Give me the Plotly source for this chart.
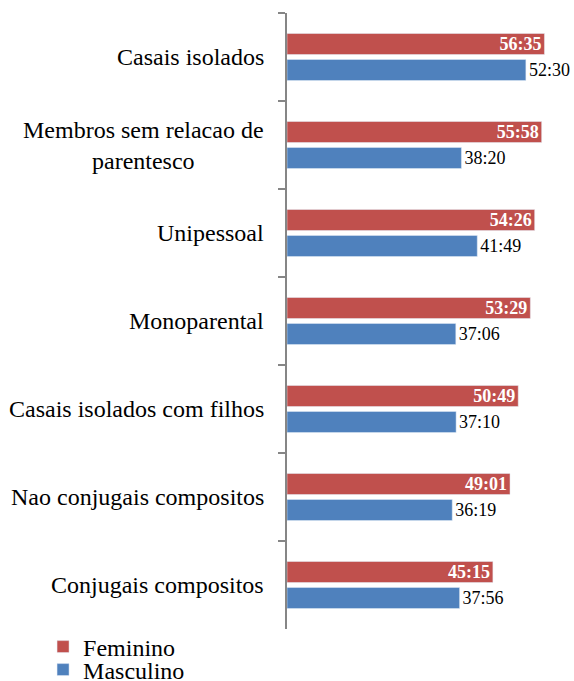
import plotly.graph_objects as go

categories = [
    "Casais isolados",
    "Membros sem relacao de<br>parentesco",
    "Unipessoal",
    "Monoparental",
    "Casais isolados com filhos",
    "Nao conjugais compositos",
    "Conjugais compositos",
]
feminino = ["56:35", "55:58", "54:26", "53:29", "50:49", "49:01", "45:15"]
masculino = ["52:30", "38:20", "41:49", "37:06", "37:10", "36:19", "37:56"]


def to_seconds(s):
    m, sec = s.split(":")
    return int(m) * 60 + int(sec)


FONT = "Liberation Serif"
FONT2 = "Times New Roman"
RED = "#C0504D"
BLUE = "#4F81BD"
GREY = "#868686"

fig = go.Figure()
fig.add_trace(go.Bar(
    name="Feminino", orientation="h", y=categories,
    x=[to_seconds(v) for v in feminino], text=feminino,
    marker=dict(color=RED), textposition="inside", insidetextanchor="end",
    textfont=dict(family=FONT, size=18, color="white", weight="bold"),
    constraintext="none", legend="legend",
))
fig.add_trace(go.Bar(
    name="Masculino", orientation="h", y=categories,
    x=[to_seconds(v) for v in masculino], text=masculino,
    marker=dict(color=BLUE), textposition="outside",
    textfont=dict(family=FONT, size=18, color="black"),
    constraintext="none", cliponaxis=False, legend="legend2",
))

for c in categories:
    fig.add_annotation(
        x=0, xref="paper", y=c, yref="y", text=c, showarrow=False,
        xanchor="right", yanchor="middle", xshift=-21, align="center",
        font=dict(family=FONT, size=24, color="black", weight="normal"),
    )

fig.update_layout(
    width=574, height=681,
    margin=dict(l=287, r=14, t=13, b=52),
    paper_bgcolor="white", plot_bgcolor="white",
    barmode="group", bargap=0.41, bargroupgap=0.19,
    font=dict(family=FONT, size=24, color="black"),
    xaxis=dict(range=[0, 3600], visible=False),
    yaxis=dict(
        autorange="reversed", type="category", tickson="boundaries",
        ticks="outside", ticklen=7, tickcolor=GREY, tickwidth=1.5,
        showticklabels=False, showline=True, linecolor=GREY, linewidth=1.5,
        showgrid=False, zeroline=False,
    ),
    legend=dict(
        xref="container", yref="container", x=0.075, y=1 - 647 / 681,
        xanchor="left", yanchor="middle", font=dict(family=FONT2, size=24),
        bgcolor="rgba(0,0,0,0)", borderwidth=0, itemwidth=30,
    ),
    legend2=dict(
        xref="container", yref="container", x=0.075, y=1 - 670 / 681,
        xanchor="left", yanchor="middle", font=dict(family=FONT2, size=24),
        bgcolor="rgba(0,0,0,0)", borderwidth=0, itemwidth=30,
    ),
    showlegend=True,
)

fig.write_html(
    "out.html",
    config={"displayModeBar": False},
    post_script="document.body.style.margin='0';document.body.style.overflow='hidden';",
)
